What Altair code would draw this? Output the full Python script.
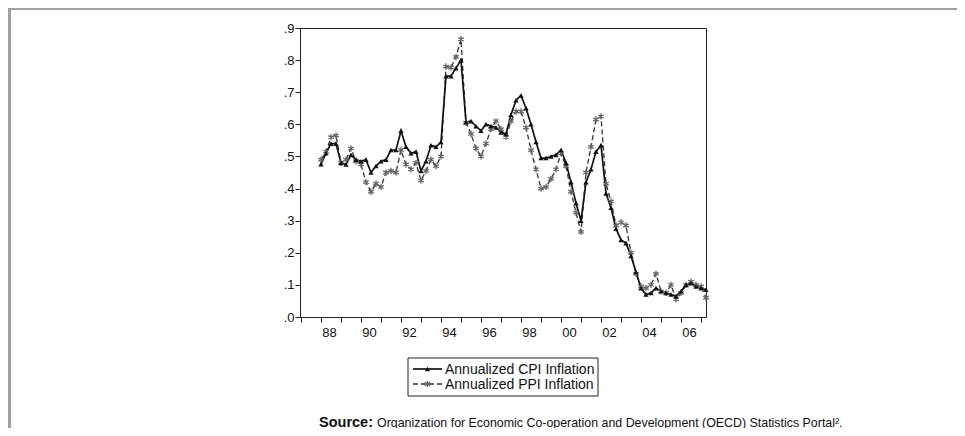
import altair as alt
import pandas as pd

# Quarterly observations, 1988Q1 .. 2007Q2
start_year = 1988
series_names = ["Annualized CPI Inflation", "Annualized PPI Inflation"]
cpi = [0.476, 0.51, 0.54, 0.54, 0.48, 0.475, 0.505, 0.49, 0.485, 0.49,
       0.45, 0.47, 0.485, 0.49, 0.52, 0.52, 0.58, 0.53, 0.51, 0.515,
       0.455, 0.485, 0.535, 0.53, 0.545, 0.75, 0.75, 0.775, 0.80, 0.607,
       0.61, 0.594, 0.58, 0.60, 0.595, 0.59, 0.575, 0.57, 0.63, 0.675,
       0.69, 0.65, 0.60, 0.545, 0.495, 0.495, 0.50, 0.505, 0.52, 0.48,
       0.42, 0.355, 0.30, 0.42, 0.46, 0.515, 0.535, 0.385, 0.34, 0.275,
       0.24, 0.23, 0.19, 0.14, 0.09, 0.07, 0.075, 0.09, 0.08, 0.075,
       0.07, 0.065, 0.08, 0.10, 0.105, 0.095, 0.09, 0.085]
ppi = [0.49, 0.515, 0.56, 0.565, 0.48, 0.49, 0.525, 0.485, 0.475, 0.42,
       0.39, 0.415, 0.405, 0.45, 0.455, 0.45, 0.52, 0.475, 0.46, 0.48,
       0.425, 0.455, 0.49, 0.47, 0.50, 0.78, 0.777, 0.81, 0.865, 0.605,
       0.57, 0.525, 0.50, 0.54, 0.585, 0.61, 0.585, 0.56, 0.61, 0.64,
       0.64, 0.59, 0.52, 0.46, 0.40, 0.405, 0.43, 0.46, 0.51, 0.47,
       0.39, 0.325, 0.265, 0.45, 0.53, 0.615, 0.625, 0.415, 0.36, 0.285,
       0.295, 0.285, 0.20, 0.135, 0.095, 0.09, 0.10, 0.135, 0.08, 0.075,
       0.10, 0.055, 0.075, 0.10, 0.11, 0.10, 0.095, 0.06]
year_ticks = list(range(1987, 2008))
y_ticks = [0.0, 0.1, 0.2, 0.3, 0.4, 0.5, 0.6, 0.7, 0.8, 0.9]
source_bold = "Source:"
source_rest = "Organization for Economic Co-operation and Development (OECD) Statistics Portal\u00b2."

t = [start_year + q / 4 for q in range(len(cpi))]
cpi_df = pd.DataFrame({"t": t, "v": cpi})
ppi_df = pd.DataFrame({"t": t, "v": ppi})

FONT = "Liberation Sans"
STAR = "M0,-1L0,1M-0.87,-0.5L0.87,0.5M-0.87,0.5L0.87,-0.5"

xs = alt.Scale(domain=[1986.95, 2007.25], nice=False, zero=False)
ys = alt.Scale(domain=[0, 0.9], nice=False)

x_axis = alt.Axis(values=year_ticks, title=None, grid=False, domain=False,
                  tickSize=5, tickColor="#222", labelOffset=8, labelOverlap=False,
                  labelFlush=False, labelFont=FONT, labelFontSize=13, labelColor="#111",
                  labelPadding=4,
                  labelExpr="datum.value % 2 == 0 ? substring(toString(datum.value), 2, 4) : ''")
y_axis = alt.Axis(values=y_ticks, title=None, grid=False, domain=False,
                  tickSize=5, tickColor="#222", labelFont=FONT, labelFontSize=13,
                  labelColor="#111", labelPadding=1,
                  labelExpr="replace(format(datum.value, '.1f'), '0.', '.')")

X = alt.X("t:Q", scale=xs, axis=x_axis)
Y = alt.Y("v:Q", scale=ys, axis=y_axis)

ppi_line = alt.Chart(ppi_df).mark_line(color="#333", strokeWidth=1.3,
                                       strokeDash=[5, 3]).encode(x=X, y=Y)
cpi_line = alt.Chart(cpi_df).mark_line(color="#111", strokeWidth=1.7).encode(x=X, y=Y)
ppi_pts = alt.Chart(ppi_df).mark_point(shape=STAR, filled=False, color="#666",
                                       strokeWidth=1.3, size=40, opacity=1).encode(x=X, y=Y)
cpi_pts = alt.Chart(cpi_df).mark_point(shape="triangle-up", filled=True, color="#111",
                                       size=28, opacity=1).encode(x=X, y=Y)

# legend (drawn manually)
dummy = pd.DataFrame({"a": [0]})
leg_box = alt.Chart(dummy).mark_rect(fill="white", stroke="#222", strokeWidth=1).encode(
    x=alt.value(108), x2=alt.value(298), y=alt.value(330), y2=alt.value(368))
leg_l1 = alt.Chart(dummy).mark_rule(color="#111", strokeWidth=1.7).encode(
    x=alt.value(113), x2=alt.value(142), y=alt.value(341))
leg_l2 = alt.Chart(dummy).mark_rule(color="#333", strokeWidth=1.3, strokeDash=[5, 3]).encode(
    x=alt.value(113), x2=alt.value(142), y=alt.value(356))
leg_p1 = alt.Chart(dummy).mark_point(shape="triangle-up", filled=True, color="#111",
                                     size=28, opacity=1).encode(x=alt.value(127.5), y=alt.value(341))
leg_p2 = alt.Chart(dummy).mark_point(shape=STAR, filled=False, color="#666", strokeWidth=1.3,
                                     size=40, opacity=1).encode(x=alt.value(127.5), y=alt.value(356))
leg_t1 = alt.Chart(dummy).mark_text(text=series_names[0], align="left", baseline="middle",
                                    font=FONT, fontSize=14, color="#111").encode(
    x=alt.value(145), y=alt.value(341.5))
leg_t2 = alt.Chart(dummy).mark_text(text=series_names[1], align="left", baseline="middle",
                                    font=FONT, fontSize=14, color="#111").encode(
    x=alt.value(145), y=alt.value(356.5))

src1 = alt.Chart(dummy).mark_text(text=source_bold, align="left", baseline="alphabetic",
                                  font=FONT, fontSize=14.5, fontWeight="bold", color="#111").encode(
    x=alt.value(19), y=alt.value(398.5))
src2 = alt.Chart(dummy).mark_text(text=source_rest, align="left", baseline="alphabetic",
                                  font=FONT, fontSize=12.4, color="#111").encode(
    x=alt.value(77), y=alt.value(398.5))

# page frame lines
frame_top = alt.Chart(dummy).mark_rule(color="#a0a0a0", strokeWidth=3).encode(
    x=alt.value(-292), x2=alt.value(657), y=alt.value(-19.5))
frame_left = alt.Chart(dummy).mark_rule(color="#a0a0a0", strokeWidth=3).encode(
    x=alt.value(-290.5), y=alt.value(-20), y2=alt.value(400))

chart = alt.layer(
    ppi_line, cpi_line, ppi_pts, cpi_pts,
    leg_box, leg_l1, leg_l2, leg_p1, leg_p2, leg_t1, leg_t2,
    src1, src2, frame_top, frame_left
).properties(
    width=406, height=289,
    autosize=alt.AutoSizeParams(type="none"),
    padding={"left": 292, "top": 20, "right": 251, "bottom": 111},
    background="white",
).configure_view(stroke="#222", strokeWidth=1)

chart.save("out.html", embed_options={"renderer": "svg", "actions": False})
